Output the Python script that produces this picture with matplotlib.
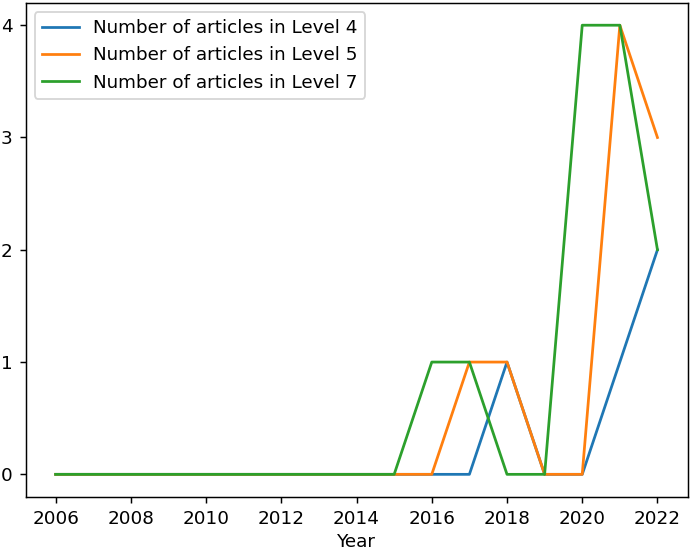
import numpy as np
import matplotlib
matplotlib.use("Agg")
import matplotlib.pyplot as plt

years = list(range(2006, 2023))
level4 = [0, 0, 0, 0, 0, 0, 0, 0, 0, 0, 0, 0, 1, 0, 0, 1, 2]
level5 = [0, 0, 0, 0, 0, 0, 0, 0, 0, 0, 0, 1, 1, 0, 0, 4, 3]
level7 = [0, 0, 0, 0, 0, 0, 0, 0, 0, 0, 1, 1, 0, 0, 4, 4, 2]

# figure drawn at a larger dpi so the text matches the reference size
fig, ax = plt.subplots(figsize=(691 / 132, 552 / 132), dpi=132)
ax.plot(years, level4, label="Number of articles in Level 4")
ax.plot(years, level5, label="Number of articles in Level 5")
ax.plot(years, level7, label="Number of articles in Level 7")

ax.set_xticks(range(2006, 2023, 2))
ax.set_yticks(range(0, 5))
ax.set_xlabel("Year", labelpad=3)
ax.legend(loc="upper left")

fig.subplots_adjust(left=0.037, right=0.995, top=0.995, bottom=0.1)
fig.savefig("out.png")
